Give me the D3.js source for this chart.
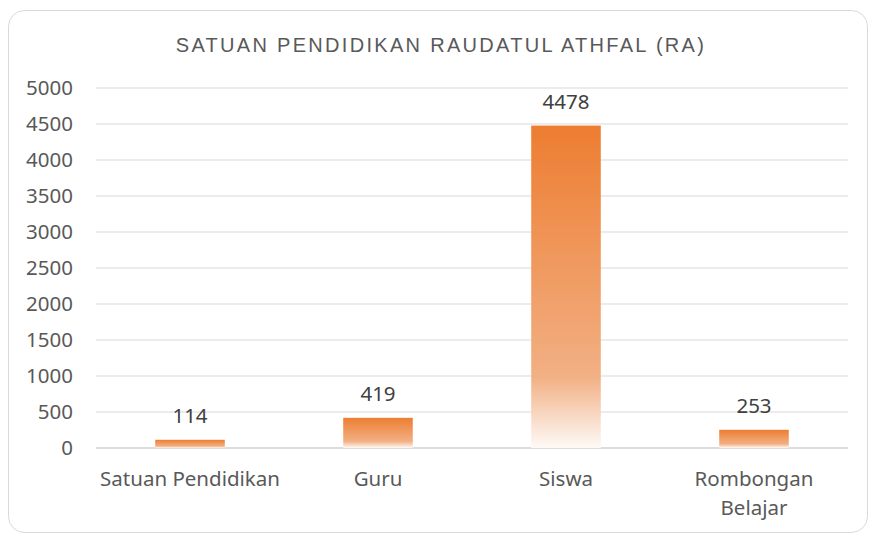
<!DOCTYPE html>
<html>
<head>
<meta charset="utf-8">
<script src="https://cdn.jsdelivr.net/npm/d3@7"></script>
<style>
  body { margin: 0; background: #fff; }
</style>
</head>
<body>
<div id="chart"></div>
<script>
const categories = [["Satuan Pendidikan"], ["Guru"], ["Siswa"], ["Rombongan", "Belajar"]];
const values = [114, 419, 4478, 253];
const yTicks = [0, 500, 1000, 1500, 2000, 2500, 3000, 3500, 4000, 4500, 5000];
const chartTitle = "SATUAN PENDIDIKAN RAUDATUL ATHFAL (RA)";

const W = 869, H = 535;
const margin = { top: 88, right: 21, bottom: 87, left: 96 };
const width = W - margin.left - margin.right,
    height = H - margin.top - margin.bottom;

const svg = d3.select("#chart").append("svg")
    .attr("width", W)
    .attr("height", H);

// khung ngoài
svg.append("rect")
    .attr("x", 8.5).attr("y", 10.5)
    .attr("width", 859).attr("height", 522)
    .attr("rx", 16)
    .attr("fill", "#fff")
    .attr("stroke", "#d9d9d9");

const defs = svg.append("defs");
const grad = defs.append("linearGradient")
    .attr("id", "barGrad")
    .attr("x1", 0).attr("y1", 0).attr("x2", 0).attr("y2", 1);
grad.append("stop").attr("offset", "0%").attr("stop-color", "#ed7d31");
grad.append("stop").attr("offset", "78%").attr("stop-color", "#f2b084");
grad.append("stop").attr("offset", "100%").attr("stop-color", "#fefaf7");

const chart = svg.append("g")
    .attr("transform", `translate(${margin.left},${margin.top})`);

const x = d3.scaleBand()
    .domain(categories.map((d, i) => i))
    .range([0, width])
    .paddingInner(0.63)
    .paddingOuter(0.315);

const y = d3.scaleLinear()
    .domain([0, 5000])
    .range([height, 0]);

const font = "'Noto Sans', sans-serif";

// lưới
chart.selectAll(".grid")
    .data(yTicks)
    .enter()
    .append("line")
    .attr("x1", 0).attr("x2", width)
    .attr("y1", d => y(d)).attr("y2", d => y(d))
    .attr("stroke", d => d === 0 ? "#d0d0d0" : "#d9d9d9")
    .attr("stroke-width", d => d === 0 ? 1.5 : 1);

// trục Y
const yAxis = chart.append("g")
    .call(d3.axisLeft(y).tickValues(yTicks).tickFormat(d3.format("d")).tickSize(0).tickPadding(23));
yAxis.select(".domain").remove();
yAxis.selectAll("text")
    .attr("fill", "#595959")
    .style("font-family", font)
    .style("font-size", "20.5px");

// cột
chart.selectAll(".bar")
    .data(values)
    .enter()
    .append("rect")
    .attr("class", "bar")
    .attr("x", (d, i) => x(i))
    .attr("y", d => y(d))
    .attr("width", x.bandwidth())
    .attr("height", d => height - y(d))
    .attr("fill", "url(#barGrad)");

// nhãn giá trị
chart.selectAll(".label")
    .data(values)
    .enter()
    .append("text")
    .attr("x", (d, i) => x(i) + x.bandwidth() / 2)
    .attr("y", d => y(d) - 17)
    .attr("text-anchor", "middle")
    .attr("fill", "#404040")
    .style("font-family", font)
    .style("font-size", "20.5px")
    .text(d => d);

// trục X
const xAxis = chart.append("g")
    .attr("transform", `translate(0,${height})`)
    .call(d3.axisBottom(x).tickSize(0).tickFormat(""));
xAxis.select(".domain").remove();
xAxis.selectAll(".tick").each(function (d) {
    const t = d3.select(this).append("text")
        .attr("text-anchor", "middle")
        .attr("fill", "#595959")
        .style("font-family", font)
        .style("font-size", "20.5px");
    categories[d].forEach((line, k) => {
        t.append("tspan").attr("x", 0).attr("y", 38 + k * 29).text(line);
    });
});

// tiêu đề
svg.append("text")
    .attr("x", 441)
    .attr("y", 52)
    .attr("text-anchor", "middle")
    .attr("fill", "#595959")
    .style("font-family", "'Liberation Sans', Arial, sans-serif")
    .style("font-size", "20px")
    .style("letter-spacing", "2.3px")
    .text(chartTitle);
</script>
</body>
</html>
